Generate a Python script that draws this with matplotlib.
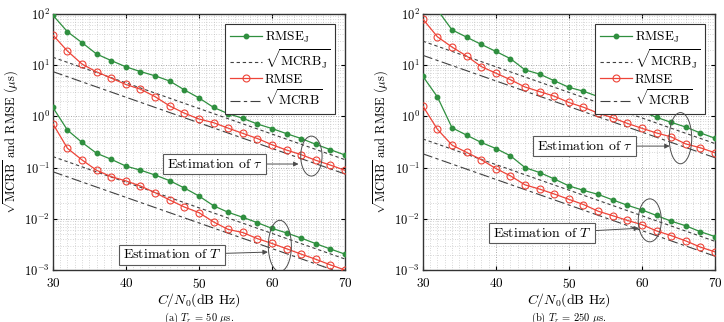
import matplotlib
matplotlib.use('Agg')
import matplotlib.pyplot as plt
import numpy as np
from matplotlib.patches import Ellipse
from matplotlib.ticker import MultipleLocator, LogLocator, NullFormatter

plt.rcParams['font.family'] = ['cmr10', 'DejaVu Serif']
plt.rcParams['mathtext.fontset'] = 'cm'
plt.rcParams['axes.formatter.use_mathtext'] = True
plt.rcParams['axes.unicode_minus'] = False

cn0 = [30, 32, 34, 36, 38, 40, 42, 44, 46, 48, 50, 52, 54, 56, 58, 60, 62, 64, 66, 68, 70]
cn0_bound = [30, 70]

# (a) Tr = 50 us
a_tau_rmsej = [95, 45, 27.5, 16.5, 12.3, 9.3, 7.5, 6.2, 4.9, 3.3, 2.3, 1.5, 1.13, 0.92, 0.71,
               0.58, 0.46, 0.37, 0.285, 0.224, 0.176]
a_tau_rmse = [39, 18.9, 10.5, 7.4, 5.6, 4.2, 3.4, 2.43, 1.6, 1.16, 0.89, 0.755, 0.59, 0.467, 0.37,
              0.28, 0.22, 0.179, 0.139, 0.112, 0.0885]
a_tau_mcrbj = [14.3, 0.143]
a_tau_mcrb = [7.5, 0.075]
a_T_rmsej = [1.5, 0.54, 0.31, 0.19, 0.145, 0.107, 0.089, 0.0716, 0.0555, 0.04, 0.0279, 0.018,
             0.0134, 0.0107, 0.0084, 0.0065, 0.0053, 0.0042, 0.00327, 0.00257, 0.00204]
a_T_rmse = [0.72, 0.238, 0.141, 0.0885, 0.0665, 0.055, 0.0437, 0.0324, 0.0233, 0.017, 0.0132,
            0.0087, 0.0062, 0.0054, 0.0041, 0.0033, 0.0026, 0.00204, 0.00162, 0.00126, 0.001]
a_T_mcrbj = [0.164, 0.00164]
a_T_mcrb = [0.083, 0.00083]

# (b) Tr = 250 us
b_tau_rmsej = [400, 120, 49, 35.3, 25.5, 18.6, 13.4, 8.1, 6.7, 4.97, 3.7, 3.1, 2.44, 1.98, 1.54,
               1.25, 0.957, 0.766, 0.62, 0.475, 0.375]
b_tau_rmse = [80, 35.9, 22.6, 15.1, 9.4, 7.0, 5.2, 3.75, 3.05, 2.48, 1.87, 1.51, 1.16, 0.94, 0.73,
              0.586, 0.475, 0.398, 0.29, 0.244, 0.195]
b_tau_mcrbj = [29.5, 0.295]
b_tau_mcrb = [15.6, 0.156]
b_T_rmsej = [6.1, 2.4, 0.60, 0.43, 0.31, 0.236, 0.17, 0.1, 0.08, 0.06, 0.044, 0.0359, 0.03,
             0.0234, 0.0184, 0.0149, 0.0116, 0.009, 0.0073, 0.0056, 0.0045]
b_T_rmse = [1.6, 0.56, 0.275, 0.198, 0.143, 0.096, 0.069, 0.046, 0.038, 0.0305, 0.024, 0.019,
            0.0141, 0.0115, 0.0093, 0.0077, 0.0058, 0.0047, 0.0037, 0.0028, 0.00226]
b_T_mcrbj = [0.363, 0.00363]
b_T_mcrb = [0.186, 0.00186]

captions = [r'(a) $T_r$ = 50 $\mu$s.', r'(b) $T_r$ = 250 $\mu$s.']

GREEN = '#2f8f3f'
RED = '#ee4438'
FS = 9.5

fig = plt.figure(figsize=(7.24, 3.22), dpi=100)
ax_a = fig.add_axes([0.073, 0.1615, 0.4035, 0.795])
ax_b = fig.add_axes([0.584, 0.1615, 0.4035, 0.795])


def draw(ax, tau, T, ann):
    for k, (rj, r, mj, m) in enumerate([tau, T]):
        lab = k == 0
        ax.plot(cn0, rj, '-', color=GREEN, lw=0.9, marker='o', ms=3.2, mfc=GREEN, mec=GREEN,
                label=r'RMSE$_\mathrm{J}$' if lab else None, zorder=4)
        ax.plot(cn0_bound, mj, color='0.25', lw=0.8, dashes=(3, 2.5),
                label=r'$\sqrt{\mathrm{MCRB}_\mathrm{J}}$' if lab else None, zorder=3)
        ax.plot(cn0, r, '-', color=RED, lw=0.9, marker='o', ms=5, mfc='none', mec=RED, mew=0.8,
                label='RMSE' if lab else None, zorder=4)
        ax.plot(cn0_bound, m, color='0.25', lw=0.8, dashes=(9, 3, 3, 3),
                label=r'$\sqrt{\mathrm{MCRB}}$' if lab else None, zorder=3)
    ax.set_yscale('log')
    ax.set_xlim(30, 70)
    ax.set_ylim(1e-3, 1e2)
    ax.xaxis.set_major_locator(MultipleLocator(10))
    ax.xaxis.set_minor_locator(MultipleLocator(1))
    ax.yaxis.set_major_locator(LogLocator(base=10, numticks=10))
    ax.yaxis.set_minor_locator(LogLocator(base=10, subs=np.arange(2, 10), numticks=20))
    ax.yaxis.set_minor_formatter(NullFormatter())
    ax.grid(True, which='major', ls=(0, (1, 2)), color='0.55', lw=0.6)
    ax.grid(True, which='minor', ls=(0, (1, 2.5)), color='0.7', lw=0.5)
    ax.tick_params(which='both', direction='in', top=True, right=True, labelsize=FS)
    ax.tick_params(axis='x', pad=5)
    ax.tick_params(axis='y', labelsize=9, pad=2)
    ax.tick_params(which='major', length=3)
    ax.tick_params(which='minor', length=0)
    for s in ax.spines.values():
        s.set_linewidth(1.0)
        s.set_color('0.2')
    ax.set_xlabel(r'$C/N_0$(dB Hz)', fontsize=FS + 0.5, labelpad=0)
    ax.set_ylabel(r'$\sqrt{\mathrm{MCRB}}$ and RMSE ($\mu$s)', fontsize=9)
    ax.yaxis.set_label_coords(-0.108, 0.5)
    leg = ax.legend(loc='upper right', fontsize=FS, fancybox=False, framealpha=1,
                    edgecolor='0.2', handlelength=2.4, borderpad=0.4, labelspacing=0.2,
                    handletextpad=0.2, bbox_to_anchor=(0.99, 0.985))
    leg.get_frame().set_linewidth(0.8)

    box = dict(boxstyle='square,pad=0.25', fc='white', ec='0.35', lw=0.8)
    arrow = dict(arrowstyle='-|>', color='0.3', lw=0.7, mutation_scale=7, shrinkA=0, shrinkB=0)
    for txt, bx, by, axx, ayy, ex, ey, ew, eh in ann:
        ax.annotate(txt, xy=(axx, ayy), xytext=(bx, by), xycoords='axes fraction',
                    textcoords='axes fraction', fontsize=FS + 0.5, ha='center', va='center',
                    bbox=box, arrowprops=arrow, zorder=6)
        ax.add_patch(Ellipse((ex, ey), ew, eh, transform=ax.transAxes, fill=False,
                             ec='0.3', lw=0.7, zorder=6))


draw(ax_a, (a_tau_rmsej, a_tau_rmse, a_tau_mcrbj, a_tau_mcrb),
     (a_T_rmsej, a_T_rmse, a_T_mcrbj, a_T_mcrb),
     [(r'Estimation of $\tau$', 0.554, 0.414, 0.841, 0.414, 0.885, 0.445, 0.073, 0.156),
      (r'Estimation of $T$', 0.409, 0.059, 0.736, 0.07, 0.777, 0.094, 0.079, 0.2)])
draw(ax_b, (b_tau_rmsej, b_tau_rmse, b_tau_mcrbj, b_tau_mcrb),
     (b_T_rmsej, b_T_rmse, b_T_mcrbj, b_T_mcrb),
     [(r'Estimation of $\tau$', 0.554, 0.484, 0.845, 0.484, 0.882, 0.515, 0.077, 0.2),
      (r'Estimation of $T$', 0.409, 0.143, 0.74, 0.163, 0.777, 0.194, 0.079, 0.168)])

fig.text(0.2748, 0.012, captions[0], ha='center', va='center', fontsize=7.5)
fig.text(0.7858, 0.012, captions[1], ha='center', va='center', fontsize=7.5)

fig.savefig('out.png', dpi=100)
